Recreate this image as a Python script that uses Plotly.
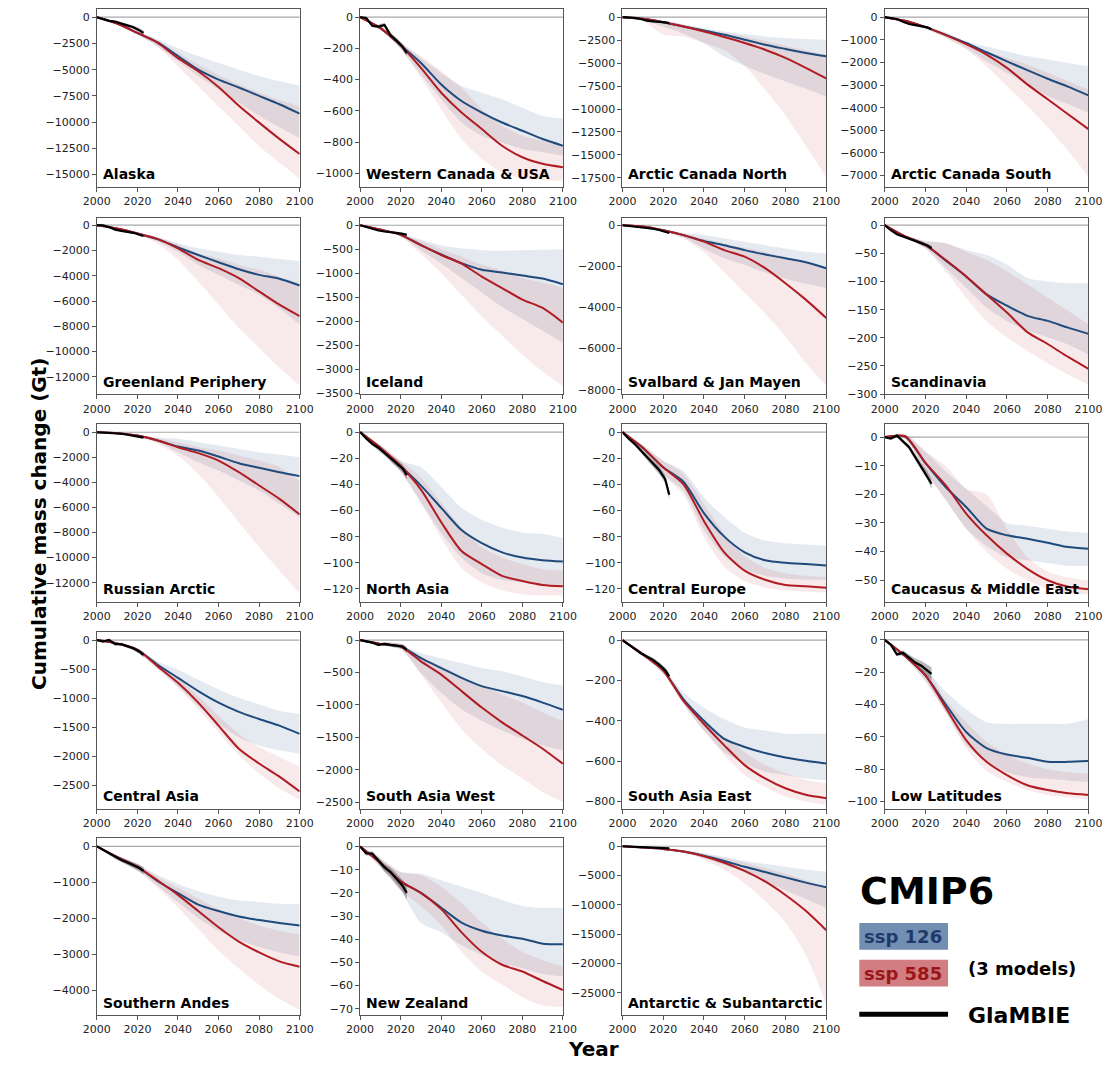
import plotly.graph_objects as go

# ---------------------------------------------------------------- data
REGIONS = [
    "Alaska", "Western Canada & USA", "Arctic Canada North", "Arctic Canada South",
    "Greenland Periphery", "Iceland", "Svalbard & Jan Mayen", "Scandinavia",
    "Russian Arctic", "North Asia", "Central Europe", "Caucasus & Middle East",
    "Central Asia", "South Asia West", "South Asia East", "Low Latitudes",
    "Southern Andes", "New Zealand", "Antarctic & Subantarctic",
]

YEARS = [2000, 2010, 2020, 2030, 2040, 2050, 2060, 2070, 2080, 2090, 2100]

# CMIP6 multi-model mean and spread, ssp126 (Gt)
SSP126_MEAN = [
    [0, -600, -1500, -2400, -3700, -5000, -5950, -6700, -7500, -8300, -9200],
    [0, -70, -180, -293, -431, -537, -611, -675, -728, -781, -824],
    [0, -180, -540, -1010, -1440, -1910, -2450, -3000, -3460, -3900, -4260],
    [0, -160, -440, -780, -1140, -1550, -1950, -2340, -2720, -3070, -3460],
    [0, -260, -650, -1100, -1750, -2360, -2930, -3480, -3930, -4240, -4770],
    [0, -90, -200, -414, -610, -790, -930, -985, -1050, -1110, -1230],
    [0, -60, -240, -480, -770, -970, -1210, -1420, -1610, -1800, -2090],
    [0, -20, -35, -63, -91, -123, -143, -161, -170, -182, -193],
    [0, -80, -270, -660, -1140, -1460, -1940, -2470, -2840, -3190, -3500],
    [0, -12, -26, -41, -58, -75, -85, -92, -96, -98, -99],
    [0, -12, -27, -38, -62, -80, -92, -98, -100, -101, -102],
    [0, 0.2, -9, -17.5, -24.4, -32, -34.3, -35.5, -36.9, -38.4, -39],
    [0, -60, -170, -424, -650, -877, -1075, -1233, -1357, -1470, -1612],
    [0, -60, -100, -280, -432, -584, -711, -788, -864, -965, -1077],
    [0, -70, -150, -294, -400, -490, -530, -560, -582, -598, -612],
    [0, -10, -22, -40, -57, -67, -71, -73, -75.5, -75.5, -75],
    [0, -300, -570, -970, -1300, -1620, -1800, -1950, -2050, -2130, -2200],
    [0, -7, -15, -20, -26.4, -32.8, -36.3, -38.4, -39.8, -41.9, -42.2],
    [0, -200, -450, -900, -1600, -2500, -3500, -4400, -5300, -6200, -7000],
]
SSP126_LOW = [
    [0, -650, -1650, -2800, -4200, -5600, -6900, -8150, -9400, -10500, -11550],
    [0, -80, -200, -367, -526, -675, -760, -803, -845, -866, -887],
    [0, -300, -1000, -1800, -2800, -4300, -5300, -6200, -7000, -7800, -8660],
    [0, -180, -500, -900, -1360, -1950, -2460, -2970, -3480, -3850, -4220],
    [0, -300, -750, -1300, -2100, -3140, -3930, -4720, -5500, -6600, -7860],
    [0, -100, -230, -520, -800, -1100, -1400, -1700, -1950, -2200, -2450],
    [0, -70, -280, -600, -1130, -1610, -1930, -2300, -2600, -2850, -3050],
    [0, -22, -40, -76, -111, -146, -170, -187, -199, -212, -230],
    [0, -100, -320, -800, -1590, -2390, -3050, -3850, -4650, -5710, -6770],
    [0, -14, -30, -54, -77, -96, -108, -113, -115, -117, -118],
    [0, -14, -32, -45, -75, -95, -105, -110, -112, -113, -113],
    [0, -0.5, -12, -22, -32, -38, -42, -43, -44, -45, -45],
    [0, -70, -200, -480, -792, -1131, -1442, -1668, -1810, -1895, -1951],
    [0, -70, -130, -508, -813, -1067, -1245, -1397, -1524, -1626, -1700],
    [0, -80, -165, -318, -449, -555, -612, -653, -669, -686, -694],
    [0, -11, -25, -45, -65, -75.5, -82, -85, -86, -87, -88],
    [0, -350, -650, -1100, -1550, -2000, -2350, -2600, -2800, -2950, -3050],
    [0, -9, -19, -33, -37, -42.6, -46.8, -50.3, -52.5, -55, -56],
    [0, -250, -550, -1100, -2000, -3200, -4500, -6000, -7500, -9000, -10500],
]
SSP126_HIGH = [
    [0, -550, -1350, -2100, -2950, -3700, -4350, -5000, -5600, -6100, -6500],
    [0, -60, -160, -261, -357, -441, -484, -526, -580, -633, -650],
    [0, -100, -400, -800, -1190, -1550, -1840, -2090, -2270, -2380, -2450],
    [0, -140, -380, -680, -1070, -1290, -1510, -1730, -1870, -2020, -2170],
    [0, -220, -550, -950, -1440, -1830, -2100, -2360, -2490, -2670, -2830],
    [0, -80, -170, -300, -420, -480, -520, -530, -520, -510, -500],
    [0, -50, -200, -380, -480, -640, -800, -970, -1130, -1290, -1370],
    [0, -18, -28, -32, -44, -53, -70, -94, -100, -103, -103],
    [0, -60, -220, -450, -530, -800, -1060, -1330, -1590, -1780, -1990],
    [0, -10, -22, -27, -42, -58, -67, -73, -77, -78, -81],
    [0, -10, -22, -30, -50, -65, -77, -83, -85, -86, -87],
    [0, 1, -5, -12, -18, -24, -30, -31, -32, -33, -33.5],
    [0, -50, -150, -368, -509, -679, -848, -990, -1103, -1216, -1273],
    [0, -50, -80, -203, -280, -356, -432, -483, -559, -650, -700],
    [0, -60, -135, -261, -335, -392, -433, -449, -465, -465, -465],
    [0, -9, -18, -32, -43, -51, -52, -52, -52, -52, -49],
    [0, -250, -500, -800, -1050, -1250, -1400, -1500, -1550, -1600, -1600],
    [0, -5, -11, -11.7, -14.5, -17.3, -20, -23, -25.7, -26.4, -26.4],
    [0, -150, -350, -700, -1200, -1800, -2500, -3000, -3500, -4000, -4300],
]

# CMIP6 multi-model mean and spread, ssp585 (Gt)
SSP585_MEAN = [
    [0, -600, -1500, -2450, -3900, -5150, -6650, -8450, -10050, -11600, -13050],
    [0, -70, -180, -325, -484, -611, -717, -824, -898, -940, -962],
    [0, -180, -540, -1010, -1550, -2160, -2810, -3540, -4440, -5520, -6670],
    [0, -160, -440, -790, -1190, -1650, -2240, -2970, -3630, -4290, -4950],
    [0, -260, -650, -1100, -1830, -2750, -3400, -4190, -5240, -6290, -7200],
    [0, -90, -200, -414, -620, -800, -1070, -1310, -1550, -1725, -2030],
    [0, -60, -240, -480, -800, -1210, -1530, -2090, -2820, -3620, -4510],
    [0, -20, -35, -62, -91, -123, -155, -190, -211, -234, -255],
    [0, -80, -270, -660, -1200, -1670, -2260, -3190, -4250, -5310, -6560],
    [0, -12, -26, -44, -69, -91, -101, -110, -114, -117, -118],
    [0, -12, -27, -40, -68, -92, -106, -113, -117, -118, -119],
    [0, 0.3, -9, -16.9, -26.7, -34.3, -40.7, -46, -50, -52.3, -53.1],
    [0, -60, -170, -452, -735, -1075, -1470, -1866, -2121, -2347, -2602],
    [0, -60, -100, -330, -533, -788, -1042, -1270, -1473, -1677, -1910],
    [0, -70, -150, -302, -416, -522, -620, -686, -735, -767, -784],
    [0, -10, -22, -42, -62, -75.5, -83.7, -90, -93, -95, -96],
    [0, -300, -570, -950, -1350, -1800, -2250, -2650, -2950, -3200, -3350],
    [0, -7, -15, -20, -27, -37, -45.4, -51, -53.9, -58, -61.9],
    [0, -200, -450, -900, -1700, -2800, -4200, -6000, -8300, -11000, -14300],
]
SSP585_LOW = [
    [0, -650, -1700, -2800, -4700, -6600, -8500, -10400, -12300, -13850, -15400],
    [0, -80, -205, -388, -590, -781, -909, -994, -1036, -1045, -1047],
    [0, -400, -1900, -2100, -2800, -3600, -5300, -7900, -10700, -14000, -17400],
    [0, -180, -520, -920, -1430, -2170, -3050, -3920, -4880, -5900, -7070],
    [0, -300, -800, -1440, -2750, -4450, -6290, -8120, -9690, -11270, -12700],
    [0, -100, -240, -600, -1000, -1450, -1900, -2300, -2700, -3050, -3350],
    [0, -70, -290, -650, -1300, -2300, -3300, -4300, -5400, -6700, -7800],
    [0, -22, -42, -82, -129, -170, -199, -223, -245, -265, -283],
    [0, -100, -350, -930, -1860, -3320, -5180, -7170, -9160, -11020, -12880],
    [0, -14, -31, -54, -81, -104, -115, -121, -124, -125, -125],
    [0, -14, -33, -48, -80, -103, -114, -119, -121, -122, -123],
    [0, -0.5, -12, -22, -32, -40, -46, -50, -53, -54.5, -55],
    [0, -70, -210, -509, -820, -1188, -1584, -1980, -2291, -2545, -2743],
    [0, -70, -140, -533, -965, -1372, -1677, -1931, -2134, -2350, -2500],
    [0, -80, -170, -318, -449, -571, -669, -727, -776, -800, -816],
    [0, -11, -26, -45, -67, -81, -88, -93, -96, -97.5, -99],
    [0, -350, -680, -1150, -1700, -2300, -2900, -3400, -3850, -4250, -4550],
    [0, -9, -19, -25.7, -34, -45.4, -53.9, -59.5, -65, -68.6, -69.3],
    [0, -250, -600, -1100, -2300, -4000, -6300, -9300, -13000, -18500, -27000],
]
SSP585_HIGH = [
    [0, -550, -1350, -2200, -3400, -4500, -5500, -6400, -7200, -7900, -8500],
    [0, -60, -160, -250, -346, -452, -590, -696, -760, -792, -830],
    [0, -100, -400, -800, -1300, -1700, -2100, -2600, -3100, -3600, -4100],
    [0, -140, -380, -700, -1100, -1510, -1800, -2090, -2460, -2830, -3190],
    [0, -220, -550, -950, -1500, -2230, -2620, -3140, -3540, -4060, -4590],
    [0, -80, -170, -330, -500, -650, -820, -950, -1100, -1200, -1300],
    [0, -50, -200, -400, -650, -900, -1100, -1300, -1550, -1800, -2050],
    [0, -18, -28, -32, -47, -62, -82, -105, -129, -152, -176],
    [0, -60, -220, -480, -800, -1200, -1460, -1860, -2260, -2790, -3900],
    [0, -10, -22, -35, -54, -73, -88, -96, -101, -105, -106],
    [0, -10, -22, -32, -55, -78, -95, -104, -108, -110, -111],
    [0, 1, -5, -10, -18, -20, -32, -42, -47, -49, -50],
    [0, -50, -150, -400, -650, -961, -1300, -1612, -1838, -2008, -2178],
    [0, -50, -80, -254, -406, -559, -711, -838, -965, -1118, -1250],
    [0, -60, -135, -286, -392, -482, -555, -620, -661, -694, -710],
    [0, -9, -18, -37, -51, -63, -71, -76.5, -80, -82, -83],
    [0, -250, -500, -850, -1150, -1450, -1750, -2000, -2200, -2350, -2450],
    [0, -5, -11, -12.4, -17.3, -24.3, -32.8, -39.8, -45.4, -49, -51.8],
    [0, -150, -350, -700, -1300, -2000, -2800, -3700, -4700, -5800, -7000],
]

# GlaMBIE observed cumulative mass change and its uncertainty (Gt)
GLAMBIE_YEARS = [2000, 2003, 2006, 2009, 2012, 2015, 2018, 2021, 2023]
GLAMBIE = [
    [0, -150, -350, -420, -600, -750, -950, -1250, -1500],
    [0, -5, -55, -60, -50, -115, -150, -190, -230],
    [0, -20, -80, -200, -380, -450, -480, -560, -650],
    [0, -30, -80, -200, -300, -350, -400, -450, -530],
    [0, -20, -150, -350, -450, -500, -600, -750, -850],
    [0, -40, -80, -110, -130, -140, -160, -180, -200],
    [0, -30, -60, -90, -130, -170, -230, -320, -380],
    [0, -9, -16, -20, -24, -27, -32, -36, -41],
    [0, -30, -60, -80, -120, -200, -280, -350, -430],
    [0, -5, -9, -12, -16, -20, -24, -28, -33],
    [0, -5, -9, -14, -19, -24, -29, -36, -48],
    [0, -0.5, 0.5, -1.5, -3.5, -7, -10.5, -13.5, -16.3],
    [0, -28, 0, -70, -70, -100, -140, -200, -255],
    [0, -15, -40, -75, -60, -75, -85, -100, -150],
    [0, -24, -44, -65, -82, -98, -122, -150, -180],
    [0, -3, -9, -8, -11, -14, -16, -19, -21],
    [0, -100, -200, -300, -380, -450, -520, -600, -680],
    [0, -3, -3, -6, -9, -11, -14, -17, -20],
    [0, -50, -100, -120, -150, -200, -250, -300, -350],
]
GLAMBIE_ERR = [
    [0, 60, 90, 110, 130, 150, 170, 190, 210],
    [0, 5, 10, 12, 14, 15, 17, 18, 20],
    [0, 20, 30, 40, 50, 60, 70, 80, 90],
    [0, 10, 15, 20, 25, 30, 35, 40, 45],
    [0, 15, 25, 35, 45, 55, 65, 75, 85],
    [0, 5, 10, 12, 15, 17, 20, 22, 25],
    [0, 10, 15, 20, 25, 30, 35, 40, 45],
    [0, 1, 2, 2, 3, 3, 4, 4, 5],
    [0, 10, 15, 20, 25, 30, 35, 40, 45],
    [0, 1, 1.5, 2, 2, 2.5, 3, 3, 3.5],
    [0, 1, 1.5, 2, 2, 2.5, 3, 3, 3.5],
    [0, 0.3, 0.5, 0.7, 0.9, 1.1, 1.3, 1.5, 1.7],
    [0, 10, 15, 20, 25, 30, 35, 40, 45],
    [0, 10, 15, 20, 25, 30, 35, 40, 45],
    [0, 3, 5, 7, 9, 11, 13, 15, 17],
    [0, 0.5, 1, 1.5, 2, 2.5, 3, 3.5, 4],
    [0, 30, 40, 50, 60, 70, 80, 90, 100],
    [0, 0.8, 1, 1.3, 1.6, 2, 2.3, 2.6, 3],
    [0, 30, 40, 50, 60, 70, 80, 90, 100],
]

# y-axis limits and tick spacing per panel
Y_RANGE = [
    [-16170, 790], [-1087, 53], [-18470, 900], [-7500, 366],
    [-13390, 605], [-3527, 160], [-8230, 373], [-300.5, 13.5],
    [-13540, 640], [-130, 6], [-130, 6], [-57.6, 4.5],
    [-2896, 141], [-2602, 127], [-836, 41], [-104.5, 5],
    [-4700, 220], [-72.8, 3.5], [-28800, 1330],
]
Y_DTICK = [2500, 200, 2500, 1000, 2000, 500, 2000, 50,
           2000, 20, 20, 10, 500, 500, 200, 20, 1000, 10, 5000]
X_TICKS = [2000, 2020, 2040, 2060, 2080, 2100]

# ---------------------------------------------------------------- styling
W, H = 1119, 1066
FONT = "DejaVu Sans"
BLUE = "#1f4a7c"
RED = "#b01c22"
BLUE_FILL = "rgba(70,100,150,0.14)"
RED_FILL = "rgba(200,70,80,0.12)"
GREY_FILL = "rgba(0,0,0,0.28)"
FRAME = "#555555"
SMOOTH = dict(shape="spline", smoothing=0.7)

COL_PX = [(85, 293), (355, 563), (624, 833), (893, 1102)]
ROW_PX = [(9, 188), (219, 397), (427, 606), (636, 814), (844, 1022)]


def px_x(x):
    return x / W


def px_y(y):
    return 1 - y / H


def fmt_tick(v):
    s = f"{abs(v):g}"
    return ("\u2212" + s) if v < 0 else s


def paper_text(text, x, y, size, color="black", xanchor="center", angle=0):
    return dict(text=text, xref="paper", yref="paper", x=px_x(x), y=px_y(y),
                xanchor=xanchor, yanchor="middle", textangle=angle, showarrow=False,
                font=dict(family=FONT, size=size, color=color))


fig = go.Figure()
layout_axes = {}
annotations = []

for i, name in enumerate(REGIONS):
    r, c = divmod(i, 4)
    n = i + 1
    xref = "x" if n == 1 else f"x{n}"
    yref = "y" if n == 1 else f"y{n}"
    common = dict(xaxis=xref, yaxis=yref, showlegend=False, hoverinfo="skip")

    # zero reference line
    fig.add_trace(go.Scatter(x=[YEARS[0], YEARS[-1]], y=[0, 0], mode="lines",
                             line=dict(color="#a8a8a8", width=1.2), **common))
    # ssp126 spread
    fig.add_trace(go.Scatter(x=YEARS, y=SSP126_HIGH[i], mode="lines",
                             line=dict(width=0, **SMOOTH), **common))
    fig.add_trace(go.Scatter(x=YEARS, y=SSP126_LOW[i], mode="lines", fill="tonexty",
                             fillcolor=BLUE_FILL, line=dict(width=0, **SMOOTH), **common))
    # ssp585 spread
    fig.add_trace(go.Scatter(x=YEARS, y=SSP585_HIGH[i], mode="lines",
                             line=dict(width=0, **SMOOTH), **common))
    fig.add_trace(go.Scatter(x=YEARS, y=SSP585_LOW[i], mode="lines", fill="tonexty",
                             fillcolor=RED_FILL, line=dict(width=0, **SMOOTH), **common))
    # GlaMBIE uncertainty
    g_hi = [m + e for m, e in zip(GLAMBIE[i], GLAMBIE_ERR[i])]
    g_lo = [m - e for m, e in zip(GLAMBIE[i], GLAMBIE_ERR[i])]
    fig.add_trace(go.Scatter(x=GLAMBIE_YEARS, y=g_hi, mode="lines",
                             line=dict(width=0), **common))
    fig.add_trace(go.Scatter(x=GLAMBIE_YEARS, y=g_lo, mode="lines", fill="tonexty",
                             fillcolor=GREY_FILL, line=dict(width=0), **common))
    # ensemble means
    fig.add_trace(go.Scatter(x=YEARS, y=SSP126_MEAN[i], mode="lines",
                             line=dict(color=BLUE, width=2, **SMOOTH), **common))
    fig.add_trace(go.Scatter(x=YEARS, y=SSP585_MEAN[i], mode="lines",
                             line=dict(color=RED, width=2, **SMOOTH), **common))
    # observations
    fig.add_trace(go.Scatter(x=GLAMBIE_YEARS, y=GLAMBIE[i], mode="lines",
                             line=dict(color="black", width=2.2), **common))

    x0, x1 = COL_PX[c]
    y0, y1 = ROW_PX[r]
    ymin, ymax = Y_RANGE[i]
    step = Y_DTICK[i]
    yticks = []
    v = 0
    while v >= ymin:
        yticks.append(v)
        v -= step

    axis_style = dict(showline=True, mirror=True, linecolor=FRAME, linewidth=1,
                      ticks="outside", ticklen=4, tickcolor=FRAME, showgrid=False,
                      zeroline=False, tickfont=dict(family=FONT, size=11, color="#222222"))
    key = "" if n == 1 else str(n)
    layout_axes[f"xaxis{key}"] = dict(
        domain=[px_x(x0), px_x(x1)], anchor=yref, range=[YEARS[0], YEARS[-1]],
        tickvals=X_TICKS, ticktext=[str(t) for t in X_TICKS], **axis_style)
    layout_axes[f"yaxis{key}"] = dict(
        domain=[px_y(y1), px_y(y0)], anchor=xref, range=[ymin, ymax],
        tickvals=yticks, ticktext=[fmt_tick(t) for t in yticks], **axis_style)

    annotations.append(dict(
        text=f"<b>{name}</b>", xref=f"{xref} domain", yref=f"{yref} domain",
        x=0.02, y=0.015, xanchor="left", yanchor="bottom", showarrow=False,
        font=dict(family=FONT, size=14, color="black")))

# shared axis titles
annotations.append(paper_text("<b>Cumulative mass change (Gt)</b>", 25, 527, 20, angle=-90))
annotations.append(paper_text("<b>Year</b>", 594, 1056, 20))

# legend block
annotations.append(paper_text("<b>CMIP6</b>", 866, 897, 38, xanchor="left"))
annotations.append(paper_text("<b>ssp 126</b>", 912, 943, 18, color="#1d3a6b"))
annotations.append(paper_text("<b>ssp 585</b>", 912, 980, 18, color="#9c1518"))
annotations.append(paper_text("<b>(3 models)</b>", 976, 975, 18, xanchor="left"))
annotations.append(paper_text("<b>GlaMBIE</b>", 976, 1022, 22, xanchor="left"))

shapes = [
    dict(type="rect", xref="paper", yref="paper",
         x0=px_x(867), x1=px_x(958), y0=px_y(956), y1=px_y(929),
         fillcolor="rgba(60,100,150,0.72)", line=dict(width=0), layer="below"),
    dict(type="rect", xref="paper", yref="paper",
         x0=px_x(867), x1=px_x(958), y0=px_y(993), y1=px_y(966),
         fillcolor="rgba(190,70,75,0.70)", line=dict(width=0), layer="below"),
    dict(type="line", xref="paper", yref="paper",
         x0=px_x(867), x1=px_x(958), y0=px_y(1021), y1=px_y(1021),
         line=dict(color="black", width=5)),
]

fig.update_layout(
    width=W, height=H, autosize=False,
    margin=dict(l=0, r=0, t=0, b=0),
    paper_bgcolor="white", plot_bgcolor="white",
    font=dict(family=FONT, size=11, color="#222222"),
    showlegend=False,
    annotations=annotations,
    shapes=shapes,
    **layout_axes,
)

fig.write_html("out.html")
